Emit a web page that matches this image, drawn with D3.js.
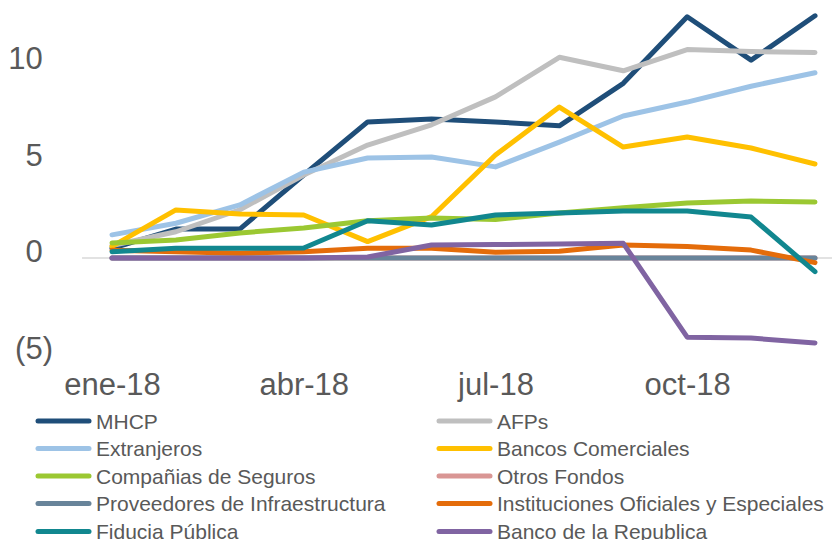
<!DOCTYPE html>
<html>
<head>
<meta charset="utf-8">
<script src="https://cdn.jsdelivr.net/npm/d3@7"></script>
<style>
  html, body { margin: 0; padding: 0; background: #fff; }
  svg { display: block; font-family: "Liberation Sans", Arial, sans-serif; }
</style>
</head>
<body>
<svg id="chart" width="832" height="540"></svg>
<script>
const months = ["ene-18","feb-18","mar-18","abr-18","may-18","jun-18","jul-18","ago-18","sep-18","oct-18","nov-18","dic-18"];
const xTickLabels = ["ene-18","abr-18","jul-18","oct-18"];
const yTickValues = [-5, 0, 5, 10];

const seriesNames = ["MHCP","AFPs","Extranjeros","Bancos Comerciales","Compañias de Seguros","Otros Fondos","Proveedores de Infraestructura","Instituciones Oficiales y Especiales","Fiducia Pública","Banco de la Republica"];
const seriesColors = ["#1F4E79","#BFBFBF","#9DC3E6","#FFC000","#9BC832","#D99694","#68849A","#E46C0A","#11878F","#8064A2"];

const mhcp          = [0.5, 1.5, 1.5, 4.3, 7.05, 7.2, 7.05, 6.85, 9.05, 12.5, 10.25, 12.55];
const afps          = [0.65, 1.36, 2.5, 4.3, 5.85, 6.9, 8.35, 10.4, 9.7, 10.8, 10.7, 10.65];
const extranjeros   = [1.2, 1.8, 2.75, 4.45, 5.18, 5.23, 4.72, 6.0, 7.36, 8.08, 8.9, 9.6];
const bancos        = [0.6, 2.49, 2.28, 2.23, 0.85, 2.14, 5.34, 7.82, 5.75, 6.27, 5.7, 4.87];
const seguros       = [0.78, 0.93, 1.3, 1.55, 1.93, 2.07, 2.0, 2.33, 2.6, 2.85, 2.95, 2.9];
const otrosFondos   = [0, 0, 0, 0, 0, 0, 0, 0, 0, 0, 0, 0];
const proveedores   = [0, 0, 0, 0, 0, 0, 0, 0, 0, 0, 0, 0];
const instituciones = [0.4, 0.33, 0.25, 0.33, 0.5, 0.5, 0.3, 0.35, 0.67, 0.59, 0.41, -0.24];
const fiducia       = [0.33, 0.5, 0.5, 0.52, 1.93, 1.71, 2.23, 2.33, 2.43, 2.43, 2.12, -0.71];
const bancoRep      = [0, 0, 0, 0, 0.05, 0.67, 0.7, 0.72, 0.76, -4.1, -4.15, -4.4];

const seriesValues = [mhcp, afps, extranjeros, bancos, seguros, otrosFondos, proveedores, instituciones, fiducia, bancoRep];

const svg = d3.select("#chart");
const textColor = "#595959";

const x = d3.scalePoint().domain(months).range([112, 815]);
const y = d3.scaleLinear().domain([-5, 10]).range([354.5, 65]);

// zero line
svg.append("line")
  .attr("x1", x(months[0]) - x.step() / 2 + 2)
  .attr("x2", 832)
  .attr("y1", y(0)).attr("y2", y(0))
  .attr("stroke", "#D9D9D9").attr("stroke-width", 1.5);

// y axis
const yAxis = svg.append("g").attr("transform", "translate(53,0)")
  .call(d3.axisLeft(y).tickValues(yTickValues).tickSize(0).tickPadding(0)
    .tickFormat(v => v < 0 ? "(" + Math.abs(v) + ")" : String(v)));
yAxis.select(".domain").remove();
yAxis.selectAll("text")
  .attr("fill", textColor)
  .attr("font-size", 31)
  .attr("font-family", "Liberation Sans, Arial, sans-serif")
  .attr("dy", "3.7")
  .attr("x", d => d < 0 ? 0 : -10.3);

// x axis
const xAxis = svg.append("g").attr("transform", "translate(0,395)")
  .call(d3.axisBottom(x).tickValues(xTickLabels).tickSize(0).tickPadding(0));
xAxis.select(".domain").remove();
xAxis.selectAll("text")
  .attr("fill", textColor)
  .attr("font-size", 31)
  .attr("font-family", "Liberation Sans, Arial, sans-serif")
  .attr("dy", "0");

// lines
const line = d3.line().x((d, i) => x(months[i])).y(d => y(d));
seriesValues.forEach((vals, i) => {
  svg.append("path")
    .datum(vals)
    .attr("d", line)
    .attr("fill", "none")
    .attr("stroke", seriesColors[i])
    .attr("stroke-width", 5)
    .attr("stroke-linejoin", "round")
    .attr("stroke-linecap", "round");
});

// legend
const legendCols = [36, 437];
const legendRowY = [421, 448.5, 476, 503.5, 531.5];
seriesNames.forEach((name, i) => {
  const col = i % 2, row = Math.floor(i / 2);
  const lx = legendCols[col], ly = legendRowY[row];
  const g = svg.append("g");
  g.append("line")
    .attr("x1", lx + 2).attr("x2", lx + 53)
    .attr("y1", ly).attr("y2", ly)
    .attr("stroke", seriesColors[i]).attr("stroke-width", 5)
    .attr("stroke-linecap", "round");
  g.append("text")
    .attr("x", lx + 60).attr("y", ly + 7.5)
    .attr("fill", textColor)
    .attr("font-size", 21)
    .text(name);
});
</script>
</body>
</html>
